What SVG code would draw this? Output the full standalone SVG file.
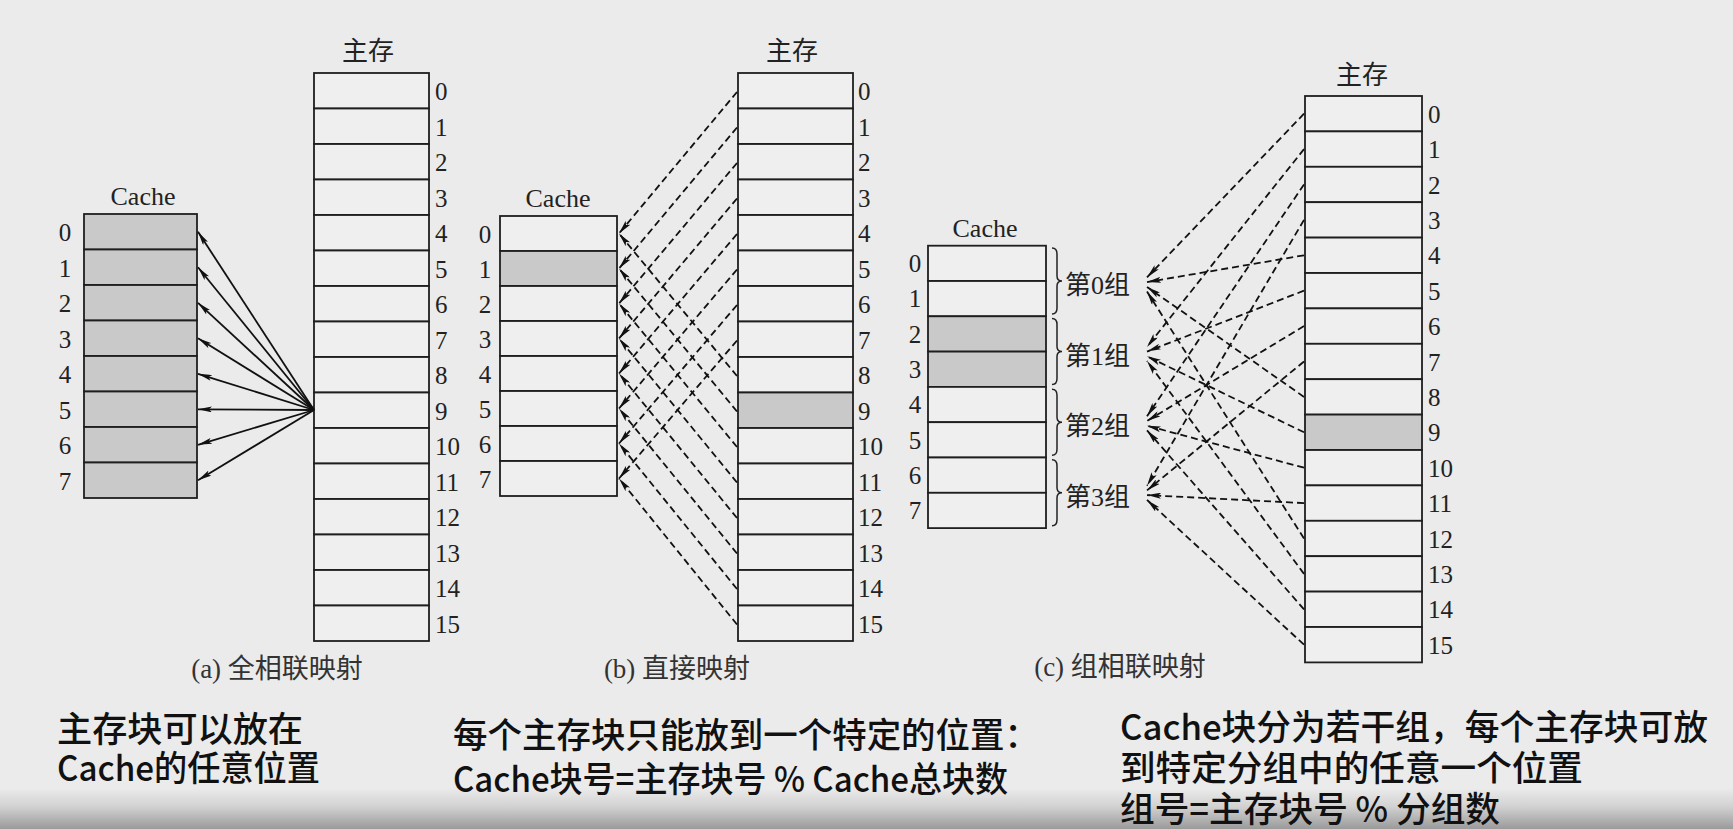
<svg xmlns="http://www.w3.org/2000/svg" width="1733" height="829" viewBox="0 0 1733 829">
<defs>
<style>
.cell{fill:#efefef;stroke:#1e1e1e;stroke-width:1.8}
.sh{fill:#c9c9c9;stroke:#1e1e1e;stroke-width:1.8}
.lbl{font-family:"Liberation Serif","Noto Sans CJK SC",serif;font-size:26px;fill:#222}
.idx{font-family:"Liberation Serif","Noto Sans CJK SC",serif;font-size:25px;fill:#222}
.cap{font-family:"Liberation Serif","Noto Sans CJK SC",serif;font-size:27px;fill:#333;text-anchor:middle}
.note{font-family:"Noto Sans CJK SC","Noto Sans",sans-serif;font-size:35px;fill:#111;font-weight:500}
.sol{stroke:#111;stroke-width:1.8;fill:none;marker-end:url(#ah)}
.dsh{stroke:#111;stroke-width:1.8;fill:none;stroke-dasharray:7 4;marker-end:url(#ah)}
.brace{stroke:#222;stroke-width:1.5;fill:none}
</style>
<marker id="ah" viewBox="0 0 14 6" refX="14" refY="3" markerWidth="14" markerHeight="6" markerUnits="userSpaceOnUse" orient="auto">
<path d="M0,0 L14,3 L0,6 L3,3 z" fill="#111"/>
</marker>
<linearGradient id="bot" x1="0" y1="0" x2="0" y2="1">
<stop offset="0" stop-color="#ebebeb"/>
<stop offset="0.45" stop-color="#d2d2d2"/>
<stop offset="1" stop-color="#9a9a9a"/>
</linearGradient>
</defs>
<rect x="0" y="0" width="1733" height="829" fill="#ebebeb"/>
<rect x="0" y="788" width="1733" height="41" fill="url(#bot)"/>

<!-- (a) -->
<g id="mem-a">
<text class="lbl" x="368" y="60" text-anchor="middle">主存</text>
<rect class="cell" x="314" y="73" width="115" height="35.5"/>
<rect class="cell" x="314" y="108.5" width="115" height="35.5"/>
<rect class="cell" x="314" y="144" width="115" height="35.5"/>
<rect class="cell" x="314" y="179.5" width="115" height="35.5"/>
<rect class="cell" x="314" y="215" width="115" height="35.5"/>
<rect class="cell" x="314" y="250.5" width="115" height="35.5"/>
<rect class="cell" x="314" y="286" width="115" height="35.5"/>
<rect class="cell" x="314" y="321.5" width="115" height="35.5"/>
<rect class="cell" x="314" y="357" width="115" height="35.5"/>
<rect class="cell" x="314" y="392.5" width="115" height="35.5"/>
<rect class="cell" x="314" y="428" width="115" height="35.5"/>
<rect class="cell" x="314" y="463.5" width="115" height="35.5"/>
<rect class="cell" x="314" y="499" width="115" height="35.5"/>
<rect class="cell" x="314" y="534.5" width="115" height="35.5"/>
<rect class="cell" x="314" y="570" width="115" height="35.5"/>
<rect class="cell" x="314" y="605.5" width="115" height="35.5"/>
<g class="idx">
<text x="435" y="100">0</text><text x="435" y="135.5">1</text><text x="435" y="171">2</text><text x="435" y="206.5">3</text>
<text x="435" y="242">4</text><text x="435" y="277.5">5</text><text x="435" y="313">6</text><text x="435" y="348.5">7</text>
<text x="435" y="384">8</text><text x="435" y="419.5">9</text><text x="435" y="455">10</text><text x="435" y="490.5">11</text>
<text x="435" y="526">12</text><text x="435" y="561.5">13</text><text x="435" y="597">14</text><text x="435" y="632.5">15</text>
</g>
</g>
<g id="cache-a">
<text class="lbl" x="143" y="205" text-anchor="middle">Cache</text>
<rect class="sh" x="84" y="214" width="113" height="35.5"/>
<rect class="sh" x="84" y="249.5" width="113" height="35.5"/>
<rect class="sh" x="84" y="285" width="113" height="35.5"/>
<rect class="sh" x="84" y="320.5" width="113" height="35.5"/>
<rect class="sh" x="84" y="356" width="113" height="35.5"/>
<rect class="sh" x="84" y="391.5" width="113" height="35.5"/>
<rect class="sh" x="84" y="427" width="113" height="35.5"/>
<rect class="sh" x="84" y="462.5" width="113" height="35.5"/>
<g class="idx" text-anchor="middle">
<text x="65" y="241">0</text><text x="65" y="276.5">1</text><text x="65" y="312">2</text><text x="65" y="347.5">3</text>
<text x="65" y="383">4</text><text x="65" y="418.5">5</text><text x="65" y="454">6</text><text x="65" y="489.5">7</text>
</g>
</g>
<text id="cap-a" class="cap" x="277" y="678">(a) 全相联映射</text>

<!-- (b) -->
<g id="mem-b">
<text class="lbl" x="792" y="60" text-anchor="middle">主存</text>
<rect class="cell" x="738" y="73" width="115" height="35.5"/>
<rect class="cell" x="738" y="108.5" width="115" height="35.5"/>
<rect class="cell" x="738" y="144" width="115" height="35.5"/>
<rect class="cell" x="738" y="179.5" width="115" height="35.5"/>
<rect class="cell" x="738" y="215" width="115" height="35.5"/>
<rect class="cell" x="738" y="250.5" width="115" height="35.5"/>
<rect class="cell" x="738" y="286" width="115" height="35.5"/>
<rect class="cell" x="738" y="321.5" width="115" height="35.5"/>
<rect class="cell" x="738" y="357" width="115" height="35.5"/>
<rect class="sh" x="738" y="392.5" width="115" height="35.5"/>
<rect class="cell" x="738" y="428" width="115" height="35.5"/>
<rect class="cell" x="738" y="463.5" width="115" height="35.5"/>
<rect class="cell" x="738" y="499" width="115" height="35.5"/>
<rect class="cell" x="738" y="534.5" width="115" height="35.5"/>
<rect class="cell" x="738" y="570" width="115" height="35.5"/>
<rect class="cell" x="738" y="605.5" width="115" height="35.5"/>
<g class="idx">
<text x="858" y="100">0</text><text x="858" y="135.5">1</text><text x="858" y="171">2</text><text x="858" y="206.5">3</text>
<text x="858" y="242">4</text><text x="858" y="277.5">5</text><text x="858" y="313">6</text><text x="858" y="348.5">7</text>
<text x="858" y="384">8</text><text x="858" y="419.5">9</text><text x="858" y="455">10</text><text x="858" y="490.5">11</text>
<text x="858" y="526">12</text><text x="858" y="561.5">13</text><text x="858" y="597">14</text><text x="858" y="632.5">15</text>
</g>
</g>
<g id="cache-b">
<text class="lbl" x="558" y="207" text-anchor="middle">Cache</text>
<rect class="cell" x="500" y="216" width="117" height="35"/>
<rect class="sh" x="500" y="251" width="117" height="35"/>
<rect class="cell" x="500" y="286" width="117" height="35"/>
<rect class="cell" x="500" y="321" width="117" height="35"/>
<rect class="cell" x="500" y="356" width="117" height="35"/>
<rect class="cell" x="500" y="391" width="117" height="35"/>
<rect class="cell" x="500" y="426" width="117" height="35"/>
<rect class="cell" x="500" y="461" width="117" height="35"/>
<g class="idx" text-anchor="middle">
<text x="485" y="242.5">0</text><text x="485" y="277.5">1</text><text x="485" y="312.5">2</text><text x="485" y="347.5">3</text>
<text x="485" y="382.5">4</text><text x="485" y="417.5">5</text><text x="485" y="452.5">6</text><text x="485" y="487.5">7</text>
</g>
</g>
<text id="cap-b" class="cap" x="677" y="678">(b) 直接映射</text>

<!-- (c) -->
<g id="mem-c">
<text class="lbl" x="1362" y="84" text-anchor="middle">主存</text>
<rect class="cell" x="1305" y="96" width="117" height="35.4"/>
<rect class="cell" x="1305" y="131.4" width="117" height="35.4"/>
<rect class="cell" x="1305" y="166.8" width="117" height="35.4"/>
<rect class="cell" x="1305" y="202.2" width="117" height="35.4"/>
<rect class="cell" x="1305" y="237.6" width="117" height="35.4"/>
<rect class="cell" x="1305" y="273" width="117" height="35.4"/>
<rect class="cell" x="1305" y="308.4" width="117" height="35.4"/>
<rect class="cell" x="1305" y="343.8" width="117" height="35.4"/>
<rect class="cell" x="1305" y="379.2" width="117" height="35.4"/>
<rect class="sh" x="1305" y="414.6" width="117" height="35.4"/>
<rect class="cell" x="1305" y="450" width="117" height="35.4"/>
<rect class="cell" x="1305" y="485.4" width="117" height="35.4"/>
<rect class="cell" x="1305" y="520.8" width="117" height="35.4"/>
<rect class="cell" x="1305" y="556.2" width="117" height="35.4"/>
<rect class="cell" x="1305" y="591.6" width="117" height="35.4"/>
<rect class="cell" x="1305" y="627" width="117" height="35.4"/>
<g class="idx">
<text x="1428" y="122.7">0</text><text x="1428" y="158.1">1</text><text x="1428" y="193.5">2</text><text x="1428" y="228.9">3</text>
<text x="1428" y="264.3">4</text><text x="1428" y="299.7">5</text><text x="1428" y="335.1">6</text><text x="1428" y="370.5">7</text>
<text x="1428" y="405.9">8</text><text x="1428" y="441.3">9</text><text x="1428" y="476.7">10</text><text x="1428" y="512.1">11</text>
<text x="1428" y="547.5">12</text><text x="1428" y="582.9">13</text><text x="1428" y="618.3">14</text><text x="1428" y="653.7">15</text>
</g>
</g>
<g id="cache-c">
<text class="lbl" x="985" y="237" text-anchor="middle">Cache</text>
<rect class="cell" x="928" y="245.7" width="118" height="35.3"/>
<rect class="cell" x="928" y="281" width="118" height="35.3"/>
<rect class="sh" x="928" y="316.3" width="118" height="35.3"/>
<rect class="sh" x="928" y="351.6" width="118" height="35.3"/>
<rect class="cell" x="928" y="386.9" width="118" height="35.3"/>
<rect class="cell" x="928" y="422.2" width="118" height="35.3"/>
<rect class="cell" x="928" y="457.5" width="118" height="35.3"/>
<rect class="cell" x="928" y="492.8" width="118" height="35.3"/>
<g class="idx" text-anchor="middle">
<text x="915" y="272">0</text><text x="915" y="307.3">1</text><text x="915" y="342.6">2</text><text x="915" y="377.9">3</text>
<text x="915" y="413.2">4</text><text x="915" y="448.5">5</text><text x="915" y="483.8">6</text><text x="915" y="519.1">7</text>
</g>
</g>
<g id="group-0">
<path class="brace" d="M1052,248 Q1057,248 1057,254 L1057,276 Q1057,281 1062,281 Q1057,281 1057,286 L1057,308 Q1057,314 1052,314"/>
<text class="lbl" x="1065" y="294">第0组</text>
</g>
<g id="group-1">
<path class="brace" d="M1052,318.6 Q1057,318.6 1057,324.6 L1057,346.6 Q1057,351.6 1062,351.6 Q1057,351.6 1057,356.6 L1057,378.6 Q1057,384.6 1052,384.6"/>
<text class="lbl" x="1065" y="364.6">第1组</text>
</g>
<g id="group-2">
<path class="brace" d="M1052,389.2 Q1057,389.2 1057,395.2 L1057,417.2 Q1057,422.2 1062,422.2 Q1057,422.2 1057,427.2 L1057,449.2 Q1057,455.2 1052,455.2"/>
<text class="lbl" x="1065" y="435.2">第2组</text>
</g>
<g id="group-3">
<path class="brace" d="M1052,459.8 Q1057,459.8 1057,465.8 L1057,487.8 Q1057,492.8 1062,492.8 Q1057,492.8 1057,497.8 L1057,519.8 Q1057,525.8 1052,525.8"/>
<text class="lbl" x="1065" y="505.8">第3组</text>
</g>
<text id="cap-c" class="cap" x="1120" y="676">(c) 组相联映射</text>

<g id="connectors">
<g id="conn-a">
<line class="sol" x1="314" y1="410" x2="198" y2="231.8"/>
<line class="sol" x1="314" y1="410" x2="198" y2="267.3"/>
<line class="sol" x1="314" y1="410" x2="198" y2="302.8"/>
<line class="sol" x1="314" y1="410" x2="198" y2="338.3"/>
<line class="sol" x1="314" y1="410" x2="198" y2="373.8"/>
<line class="sol" x1="314" y1="410" x2="198" y2="409.3"/>
<line class="sol" x1="314" y1="410" x2="198" y2="444.8"/>
<line class="sol" x1="314" y1="410" x2="198" y2="480.3"/>
</g>
<g id="conn-b">
<line class="dsh" x1="737" y1="92" x2="619" y2="233.5"/>
<line class="dsh" x1="737" y1="127.5" x2="619" y2="268.5"/>
<line class="dsh" x1="737" y1="163" x2="619" y2="303.5"/>
<line class="dsh" x1="737" y1="198.5" x2="619" y2="338.5"/>
<line class="dsh" x1="737" y1="234" x2="619" y2="373.5"/>
<line class="dsh" x1="737" y1="269.5" x2="619" y2="408.5"/>
<line class="dsh" x1="737" y1="305" x2="619" y2="443.5"/>
<line class="dsh" x1="737" y1="340.5" x2="619" y2="478.5"/>
<line class="dsh" x1="737" y1="376" x2="619" y2="233.5"/>
<line class="dsh" x1="737" y1="411.5" x2="619" y2="268.5"/>
<line class="dsh" x1="737" y1="447" x2="619" y2="303.5"/>
<line class="dsh" x1="737" y1="482.5" x2="619" y2="338.5"/>
<line class="dsh" x1="737" y1="518" x2="619" y2="373.5"/>
<line class="dsh" x1="737" y1="553.5" x2="619" y2="408.5"/>
<line class="dsh" x1="737" y1="589" x2="619" y2="443.5"/>
<line class="dsh" x1="737" y1="624.5" x2="619" y2="478.5"/>
</g>
<g id="conn-c">
<line class="dsh" x1="1304" y1="113.7" x2="1147" y2="277.4"/>
<line class="dsh" x1="1304" y1="149.1" x2="1147" y2="346.9"/>
<line class="dsh" x1="1304" y1="184.5" x2="1147" y2="416.3"/>
<line class="dsh" x1="1304" y1="219.9" x2="1147" y2="485.8"/>
<line class="dsh" x1="1304" y1="255.3" x2="1147" y2="282.1"/>
<line class="dsh" x1="1304" y1="290.7" x2="1147" y2="351.6"/>
<line class="dsh" x1="1304" y1="326.1" x2="1147" y2="421"/>
<line class="dsh" x1="1304" y1="361.5" x2="1147" y2="490.4"/>
<line class="dsh" x1="1304" y1="396.9" x2="1147" y2="286.9"/>
<line class="dsh" x1="1304" y1="432.3" x2="1147" y2="356.3"/>
<line class="dsh" x1="1304" y1="467.7" x2="1147" y2="425.7"/>
<line class="dsh" x1="1304" y1="503.1" x2="1147" y2="495.1"/>
<line class="dsh" x1="1304" y1="538.5" x2="1147" y2="291.6"/>
<line class="dsh" x1="1304" y1="573.9" x2="1147" y2="361"/>
<line class="dsh" x1="1304" y1="609.3" x2="1147" y2="430.4"/>
<line class="dsh" x1="1304" y1="644.7" x2="1147" y2="499.9"/>
</g>
</g>

<g id="notes">
<text class="note" x="57" y="742" textLength="246" lengthAdjust="spacingAndGlyphs">主存块可以放在</text>
<text class="note" x="57" y="781" textLength="263" lengthAdjust="spacingAndGlyphs">Cache的任意位置</text>
<text class="note" x="453" y="748" textLength="586" lengthAdjust="spacingAndGlyphs">每个主存块只能放到一个特定的位置：</text>
<text class="note" x="453" y="792" textLength="555" lengthAdjust="spacingAndGlyphs">Cache块号=主存块号 % Cache总块数</text>
<text class="note" x="1120" y="740" textLength="588" lengthAdjust="spacingAndGlyphs">Cache块分为若干组，每个主存块可放</text>
<text class="note" x="1120" y="781" textLength="463" lengthAdjust="spacingAndGlyphs">到特定分组中的任意一个位置</text>
<text class="note" x="1120" y="822" textLength="380" lengthAdjust="spacingAndGlyphs">组号=主存块号 % 分组数</text>
</g>
</svg>
